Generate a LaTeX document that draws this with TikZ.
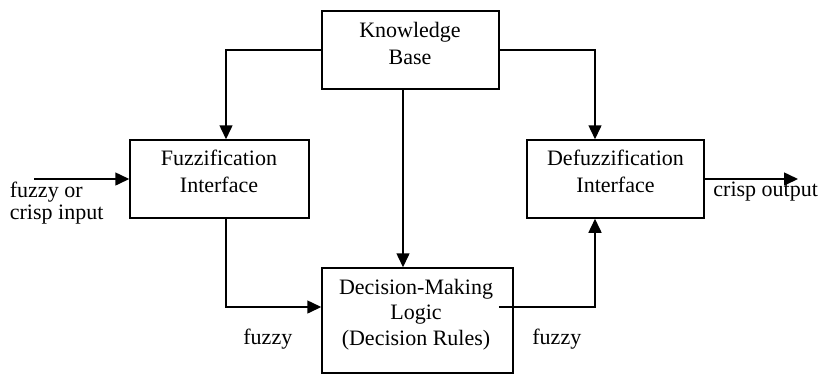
\documentclass[tikz,border=0pt]{standalone}
\usepackage{fontspec}
\setmainfont{Liberation Serif}
\usetikzlibrary{arrows.meta}

\begin{document}
\begin{tikzpicture}[x=0.5pt, y=-0.5pt,
  block/.style={draw=black, line width=0.75pt, inner sep=0pt},
  btext/.style={align=center, inner sep=0pt, anchor=base, font=\fontsize{11}{13.5}\selectfont},
  ltext/.style={align=left, inner sep=0pt, anchor=base west, font=\fontsize{11}{11.2}\selectfont},
  flow/.style={line width=0.75pt, -{Triangle[length=7pt, width=6.5pt]}}]
\useasboundingbox (0,0) rectangle (822,376);
% Knowledge base
\node[block, minimum width=88.5pt, minimum height=39pt] (kb) at (410.5,50) {};
\node[btext] (kbtext) at (410,64) {Knowledge\\Base};
% Fuzzification
\node[block, minimum width=89.5pt, minimum height=39pt] (fuzz) at (219.5,179) {};
\node[btext] (fuzztext) at (219,192.7) {Fuzzification\\Interface};
% Defuzzification
\node[block, minimum width=88.5pt, minimum height=39pt] (defz) at (615.5,179) {};
\node[btext] (defztext) at (615.5,192.7) {Defuzzification\\Interface};
% Decision logic
\node[block, minimum width=95.5pt, minimum height=52.5pt] (dml) at (417.5,320.5) {};
\node[btext, font=\fontsize{11}{12.7}\selectfont] (dmltext) at (416,345) {Decision-Making\\Logic\\(Decision Rules)};
% Free ends
\coordinate (inp) at (34,179);
\coordinate (outp) at (798,179);
% Connectors
\draw[flow] (inp) -- (fuzz.west);
\draw[flow] (defz.east) -- (outp);
\draw[flow] (kb.west) -| ([xshift=3.25pt]fuzz.north);
\draw[flow] (kb.east) -| ([xshift=-10.25pt]defz.north);
\draw[flow] ([xshift=-3.75pt]kb.south) -- ([xshift=-7.25pt]dml.north);
\draw[flow] ([xshift=3.25pt]fuzz.south) |- ([yshift=6.75pt]dml.west);
\draw[flow] ([xshift=-7.5pt, yshift=6.75pt]dml.east) -| ([xshift=-10.25pt]defz.south);
% Labels
\node[ltext] (inlabel) at (9.5,219.5) {fuzzy or\\crisp input};
\node[ltext] (outlabel) at (713,196) {crisp output};
\node[ltext] (fzleft) at (243,344) {fuzzy};
\node[ltext] (fzright) at (532,344) {fuzzy};
\end{tikzpicture}
\end{document}
